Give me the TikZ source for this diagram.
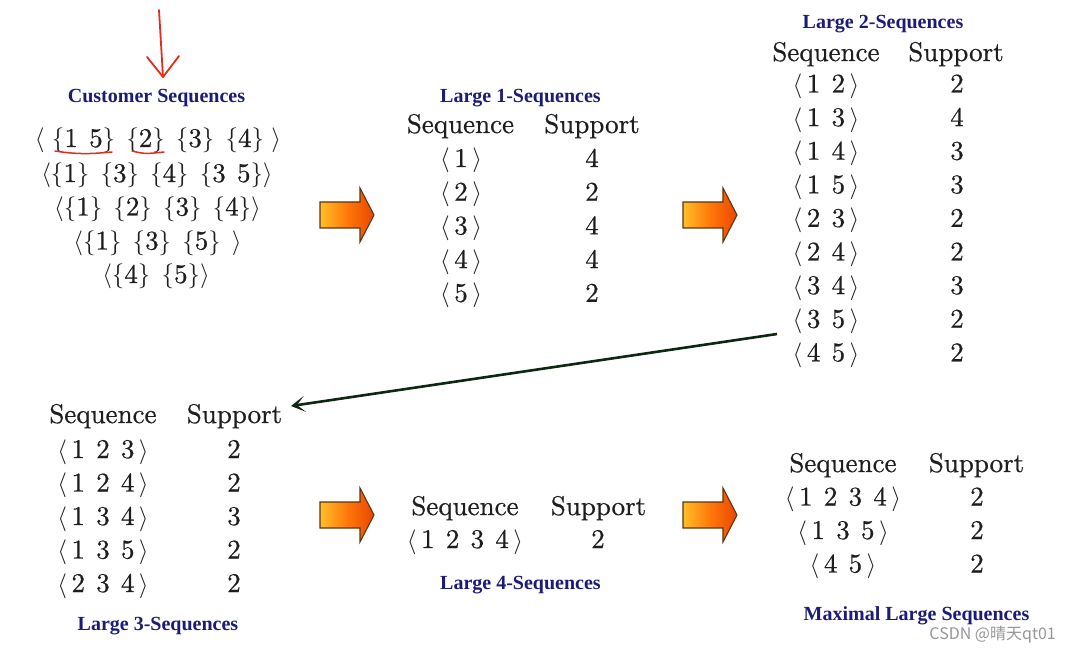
\documentclass[tikz,border=0pt]{standalone}
\usepackage{fontspec}
\usetikzlibrary{arrows.meta}
\newfontfamily\seqfont{lmroman10-regular.otf}[FakeBold=0.6, WordSpace=1.25]
\newfontfamily\titlefont{Liberation Serif}
\newfontfamily\cjkfont{Noto Sans CJK SC}
\definecolor{textc}{RGB}{30,30,30}
\definecolor{titlec}{RGB}{28,28,120}
\definecolor{redpen}{RGB}{225,45,30}
\definecolor{arrline}{RGB}{90,55,15}
\definecolor{darkarrow}{RGB}{12,40,18}
\newcommand\myL{$\langle$}
\newcommand\myR{$\rangle$}
\newcommand\myO{$\{$}
\newcommand\myC{$\}$}
\begin{document}
\begin{tikzpicture}[x=1pt,y=-1pt,
  txt/.style={font=\seqfont\fontsize{27}{30}\selectfont, text=textc, anchor=base, inner sep=0pt},
  ttl/.style={font=\titlefont\bfseries\fontsize{20}{24}\selectfont, text=titlec, anchor=base, inner sep=0pt},
  redline/.style={draw=redpen, line width=1.8pt, line cap=round},
  fat/.pic={\path[draw=arrline, line width=1.1pt, line join=miter, left color={rgb,255:red,255;green,190;blue,40}, right color={rgb,255:red,235;green,70;blue,0}, middle color={rgb,255:red,255;green,120;blue,10}]
     (-27,-13) -- (13,-13) -- (13,-27) -- (27,0) -- (13,27) -- (13,13) -- (-27,13) -- cycle;}
]
\useasboundingbox[fill=white] (0,0) rectangle (1070,652);

% ---- Customer sequences
\coordinate (rtop) at (159,10);
\coordinate (rtip) at (163,77);
\draw[redline] (rtop) -- (rtip);
\draw[redline, line join=round] (147,57) -- (rtip) -- (179,56);
\node[ttl] (tcust) at (156.5,103) {Customer Sequences};
\node[txt] (c1) at (158,147) {\myL\;\myO1 5\myC{} \myO2\myC{} \myO3\myC{} \myO4\myC\;\myR};
\node[txt] (c2) at (157,182) {\myL\myO1\myC{} \myO3\myC{} \myO4\myC{} \myO3 5\myC\myR};
\node[txt] (c3) at (157.5,215.5) {\myL\myO1\myC{} \myO2\myC{} \myO3\myC{} \myO4\myC\myR};
\node[txt] (c4) at (157.5,249.5) {\myL\myO1\myC{} \myO3\myC{} \myO5\myC{} \myR};
\node[txt] (c5) at (156,283) {\myL\myO4\myC{} \myO5\myC\myR};
\draw[redline, line width=1.5pt] (55,151) .. controls (80,155) and (95,153.5) .. (112,152);
\draw[redline, line width=1.5pt] (132,151) .. controls (145,154) .. (164,152);

% ---- Large 1-sequences
\node[ttl] (t1) at (520.5,103) {Large 1-Sequences};
\node[txt] (h1a) at (460.5,133) {Sequence};
\node[txt] (h1b) at (592,133) {Support};
\foreach \s/\v [count=\i] in {1/4,2/2,3/4,4/4,5/2}{
  \node[txt] (s1\i) at (461,{167+(\i-1)*33.7}) {\myL\,\s\,\myR};
  \node[txt] (v1\i) at (592,{167+(\i-1)*33.7}) {\v};
}

% ---- Large 2-sequences
\node[ttl] (t2) at (883,29) {Large 2-Sequences};
\node[txt] (h2a) at (826,61) {Sequence};
\node[txt] (h2b) at (956,61) {Support};
\foreach \s/\v [count=\i] in {1 2/2,1 3/4,1 4/3,1 5/3,2 3/2,2 4/2,3 4/3,3 5/2,4 5/2}{
  \node[txt] (s2\i) at (826,{92.5+(\i-1)*33.6}) {\myL\,\s\,\myR};
  \node[txt] (v2\i) at (957,{92.5+(\i-1)*33.6}) {\v};
}

% ---- Large 3-sequences
\node[txt] (h3a) at (103,423) {Sequence};
\node[txt] (h3b) at (234.5,423) {Support};
\foreach \s/\v [count=\i] in {1 2 3/2,1 2 4/2,1 3 4/3,1 3 5/2,2 3 4/2}{
  \node[txt] (s3\i) at (103,{458+(\i-1)*33.5}) {\myL\,\s\,\myR};
  \node[txt] (v3\i) at (234,{458+(\i-1)*33.5}) {\v};
}
\node[ttl] (t3) at (158,630) {Large 3-Sequences};

% ---- Large 4-sequences
\node[txt] (h4a) at (465,515) {Sequence};
\node[txt] (h4b) at (598.5,515) {Support};
\node[txt] (s41) at (465,548) {\myL\,1 2 3 4\,\myR};
\node[txt] (v41) at (598,548) {2};
\node[ttl] (t4) at (520.5,589) {Large 4-Sequences};

% ---- Maximal
\node[txt] (h5a) at (843,472) {Sequence};
\node[txt] (h5b) at (976.5,472) {Support};
\node[txt] (s51) at (843,505.5) {\myL\,1 2 3 4\,\myR};
\node[txt] (v51) at (977,505.5) {2};
\node[txt] (s52) at (843,539) {\myL\,1 3 5\,\myR};
\node[txt] (v52) at (977,539) {2};
\node[txt] (s53) at (843,572.5) {\myL\,4 5\,\myR};
\node[txt] (v53) at (977,572.5) {2};
\node[ttl] (t5) at (916.5,620) {Maximal Large Sequences};

% ---- orange arrows
\pic at (347,215) {fat};
\pic at (710,215) {fat};
\pic at (347,515) {fat};
\pic at (710,515) {fat};

% ---- long arrow
\coordinate (la) at (777,334);
\coordinate (lb) at (291,406);
\draw[darkarrow, line width=2.6pt, -{Stealth[length=14pt,width=16pt,inset=8pt]}] (la) -- (lb);

% ---- watermark
\node[font=\cjkfont\fontsize{16}{19}\selectfont, text={rgb,255:red,150;green,150;blue,150}, anchor=base east, inner sep=0pt] (wm) at (1056,639) {CSDN @晴天qt01};
\end{tikzpicture}
\end{document}
